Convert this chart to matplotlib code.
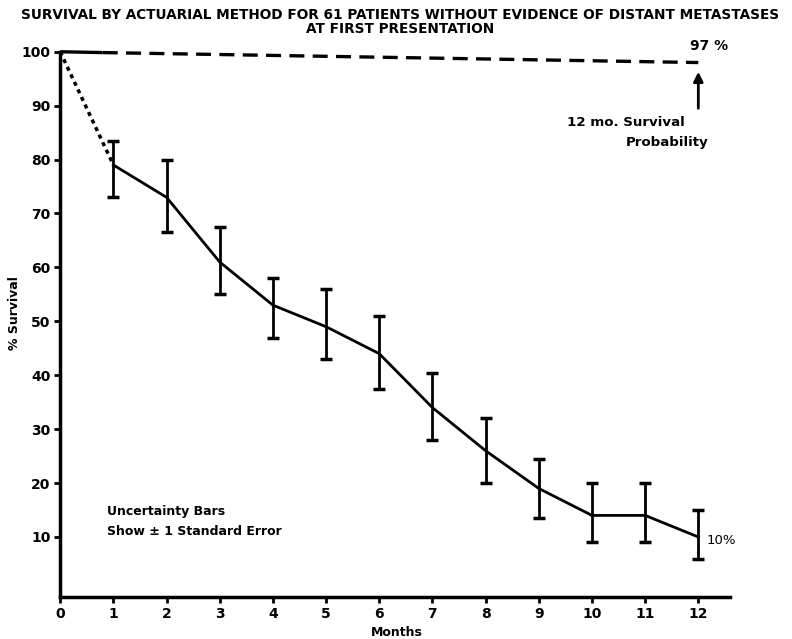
import matplotlib
matplotlib.use('Agg')
import matplotlib.pyplot as plt

# survival data
months = [1, 2, 3, 4, 5, 6, 7, 8, 9, 10, 11, 12]
survival = [79, 73, 61, 53, 49, 44, 34, 26, 19, 14, 14, 10]
err_low = [73, 66.5, 55, 47, 43, 37.5, 28, 20, 13.5, 9, 9, 6]
err_high = [83.5, 80, 67.5, 58, 56, 51, 40.5, 32, 24.5, 20, 20, 15]

# first month extrapolated (dotted) and the 12-month survival reference
start_x = [0, 1]
start_y = [100, 79]
ref_x = [0, 0.8, 12]
ref_y = [100, 99.85, 98]

x_ticks = list(range(0, 13))
y_ticks = list(range(10, 101, 10))

fig = plt.figure(figsize=(7.92, 6.39), dpi=100)
ax = fig.add_axes([0.076, 0.066, 0.846, 0.853])

yerr = [[s - lo for s, lo in zip(survival, err_low)],
        [hi - s for s, hi in zip(survival, err_high)]]
ax.errorbar(months, survival, yerr=yerr, color='black', linewidth=2,
            elinewidth=2, capsize=4.5, capthick=2.5)
ax.plot(start_x, start_y, color='black', linestyle=(0, (1.2, 1.2)), linewidth=2.5,
        clip_on=False)
# lines at the 100 % level sit on the top edge, so don't clip them
ax.plot(ref_x[:2], ref_y[:2], color='black', linewidth=2.4, solid_capstyle='butt',
        clip_on=False)
ax.plot(ref_x[1:], ref_y[1:], color='black', linestyle=(0, (4.5, 2.5)), linewidth=2.4,
        clip_on=False)

ax.set_xlim(0, 12.6)
ax.set_ylim(-1.1, 100)
ax.spines['top'].set_visible(False)
ax.spines['right'].set_visible(False)
ax.spines['left'].set_linewidth(2.5)
ax.spines['bottom'].set_linewidth(2.5)
ax.set_xticks(x_ticks)
ax.set_yticks(y_ticks)
ax.tick_params(width=2, length=4, labelsize=10, pad=3)
for lab in ax.get_xticklabels() + ax.get_yticklabels():
    lab.set_fontweight('bold')

ax.set_xlabel('Months', fontsize=9, fontweight='bold')
ax.xaxis.set_label_coords(0.503, -0.053)
ax.set_ylabel('% Survival', fontsize=9, fontweight='bold')
ax.yaxis.set_label_coords(-0.058, 0.52)

fig.text(0.505, 0.988, 'SURVIVAL BY ACTUARIAL METHOD FOR 61 PATIENTS WITHOUT EVIDENCE OF DISTANT METASTASES\nAT FIRST PRESENTATION',
         ha='center', va='top', fontsize=9.8, fontweight='bold', linespacing=1.05)

ax.text(11.85, 101.0, '97 %', fontsize=10, fontweight='bold', ha='left', va='center')
ax.annotate('', xy=(12, 96.8), xytext=(12, 89),
            arrowprops=dict(arrowstyle='-|>', color='black', lw=2, mutation_scale=14))
ax.text(9.53, 86.8, '12 mo. Survival', fontsize=9.6, fontweight='bold', ha='left', va='center')
ax.text(10.64, 83.1, 'Probability', fontsize=9.6, fontweight='bold', ha='left', va='center')
ax.text(0.88, 14.7, 'Uncertainty Bars', fontsize=9, fontweight='bold', ha='left', va='center')
ax.text(0.88, 11.0, 'Show ± 1 Standard Error', fontsize=9, fontweight='bold', ha='left', va='center')
ax.text(12.15, 9.3, '10%', fontsize=9.5, ha='left', va='center')

fig.savefig('out.png', dpi=100)
